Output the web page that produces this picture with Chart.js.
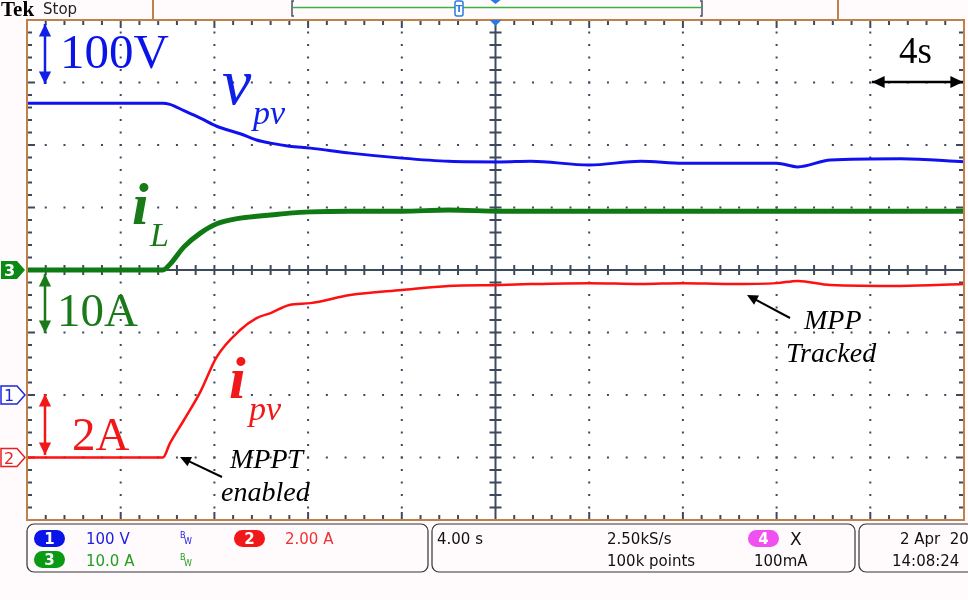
<!DOCTYPE html>
<html>
<head>
<meta charset="utf-8">
<script src="https://cdn.jsdelivr.net/npm/chart.js@4.4.0/dist/chart.umd.min.js"></script>
<style>
  html, body { margin: 0; padding: 0; background: #fffafc; }
  #wrap { width: 968px; height: 600px; position: relative; }
</style>
</head>
<body>
<div id="wrap"><canvas id="scope" width="968" height="600"></canvas></div>
<script>
// time in seconds (4 s/div, 10 div)
const times = [0, 3, 5.8, 6.1, 6.7, 7.4, 8.1, 9.1, 9.8, 10.4, 11.2, 12.1, 13.8, 16, 18, 20.2, 21.5, 24, 26.2, 28, 30, 32, 32.9, 34.3, 37.3, 40];
// ch1 PV voltage (V)
const vpv = [467, 467, 467, 465, 455, 443, 430, 418, 408, 403, 398, 395, 387, 379, 374, 373, 374, 368, 374, 371, 371, 371, 365, 376, 378, 373];
// ch3 inductor current (A)
const iL = [0, 0, 0, 0.9, 3.7, 5.9, 7.4, 8.3, 8.6, 8.8, 9.1, 9.3, 9.4, 9.4, 9.6, 9.4, 9.4, 9.4, 9.4, 9.4, 9.4, 9.4, 9.4, 9.4, 9.4, 9.4];
// ch2 PV current (A)
const ipv = [0, 0, 0, 0.45, 1.2, 2.1, 3.22, 4.08, 4.46, 4.62, 4.88, 4.94, 5.2, 5.36, 5.49, 5.52, 5.55, 5.58, 5.55, 5.58, 5.55, 5.58, 5.65, 5.52, 5.49, 5.55];

function pts(vals) {
    return times.map((t, i) => ({ x: t, y: vals[i] }));
}

const GRID = '#3d4a5e';

const graticule = {
    id: 'graticule',
    beforeDatasetsDraw(chart) {
        const ctx = chart.ctx;
        const a = chart.chartArea;
        const dw = (a.right - a.left) / 10;
        const dh = (a.bottom - a.top) / 8;
        const cx = a.left + dw * 5, cy = a.top + dh * 4;
        ctx.save();
        ctx.fillStyle = '#ffffff';
        ctx.fillRect(a.left, a.top, a.right - a.left, a.bottom - a.top);
        ctx.fillStyle = GRID;
        // dotted lines
        for (let i = 1; i < 10; i++) {
            if (i === 5) continue;
            const x = a.left + i * dw;
            for (let j = 1; j < 40; j++) ctx.fillRect(x - 1, a.top + j * dh / 5 - 1, 2, 2);
        }
        for (let k = 1; k < 8; k++) {
            if (k === 4) continue;
            const y = a.top + k * dh;
            for (let j = 1; j < 50; j++) ctx.fillRect(a.left + j * dw / 5 - 1, y - 1, 2, 2);
        }
        ctx.strokeStyle = GRID;
        ctx.lineWidth = 2;
        ctx.beginPath();
        ctx.moveTo(cx, a.top); ctx.lineTo(cx, a.bottom);
        ctx.moveTo(a.left, cy); ctx.lineTo(a.right, cy);
        // center and edge ticks
        for (let j = 1; j < 50; j++) {
            const x = a.left + j * dw / 5;
            ctx.moveTo(x, cy - 5); ctx.lineTo(x, cy + 5);
            const len = j % 5 === 0 ? 8 : 5;
            ctx.moveTo(x, a.top); ctx.lineTo(x, a.top + len);
            ctx.moveTo(x, a.bottom); ctx.lineTo(x, a.bottom - len);
        }
        for (let j = 1; j < 40; j++) {
            const y = a.top + j * dh / 5;
            ctx.moveTo(cx - 6, y); ctx.lineTo(cx + 6, y);
            const len = j % 5 === 0 ? 8 : 5;
            ctx.moveTo(a.left, y); ctx.lineTo(a.left + len, y);
            ctx.moveTo(a.right, y); ctx.lineTo(a.right - len, y);
        }
        ctx.stroke();
        ctx.restore();
    }
};

function arrowHead(ctx, x, y, ang, size) {
    ctx.beginPath();
    ctx.moveTo(x, y);
    ctx.lineTo(x - size * Math.cos(ang - 0.45), y - size * Math.sin(ang - 0.45));
    ctx.lineTo(x - size * Math.cos(ang + 0.45), y - size * Math.sin(ang + 0.45));
    ctx.closePath();
    ctx.fill();
}

function dblArrow(ctx, x1, y1, x2, y2, color) {
    ctx.strokeStyle = color; ctx.fillStyle = color; ctx.lineWidth = 2.5;
    const ang = Math.atan2(y2 - y1, x2 - x1);
    ctx.beginPath(); ctx.moveTo(x1, y1); ctx.lineTo(x2, y2); ctx.stroke();
    arrowHead(ctx, x2, y2, ang, 14);
    arrowHead(ctx, x1, y1, ang + Math.PI, 14);
}

function arrow(ctx, x1, y1, x2, y2) {
    ctx.strokeStyle = '#000'; ctx.fillStyle = '#000'; ctx.lineWidth = 2;
    const ang = Math.atan2(y2 - y1, x2 - x1);
    ctx.beginPath(); ctx.moveTo(x1, y1); ctx.lineTo(x2 - 6 * Math.cos(ang), y2 - 6 * Math.sin(ang)); ctx.stroke();
    arrowHead(ctx, x2, y2, ang, 12);
}

function pill(ctx, x, y, w, h, fill, txt) {
    ctx.fillStyle = fill;
    ctx.beginPath();
    ctx.roundRect(x, y, w, h, h / 2);
    ctx.fill();
    ctx.fillStyle = '#fff';
    ctx.font = 'bold 15px "DejaVu Sans"';
    ctx.textAlign = 'center';
    ctx.fillText(txt, x + w / 2, y + h - 3);
    ctx.textAlign = 'left';
}

function marker(ctx, y, color, txt, filled) {
    ctx.beginPath();
    ctx.moveTo(1, y - 9); ctx.lineTo(17, y - 9); ctx.lineTo(25, y); ctx.lineTo(17, y + 9); ctx.lineTo(1, y + 9);
    ctx.closePath();
    ctx.lineWidth = 1.5;
    if (filled) { ctx.fillStyle = color; ctx.fill(); }
    else { ctx.fillStyle = '#fff'; ctx.fill(); ctx.strokeStyle = color; ctx.stroke(); }
    ctx.fillStyle = filled ? '#fff' : color;
    ctx.font = (filled ? 'bold ' : '') + '16px "DejaVu Sans"';
    ctx.fillText(txt, 4, y + 6);
}

const overlay = {
    id: 'overlay',
    afterDraw(chart) {
        const ctx = chart.ctx;
        const a = chart.chartArea;
        ctx.save();
        // frame
        ctx.strokeStyle = '#c0804a';
        ctx.lineWidth = 2;
        ctx.strokeRect(a.left, a.top, a.right - a.left, a.bottom - a.top);
        ctx.beginPath();
        ctx.moveTo(153, 0); ctx.lineTo(153, a.top);
        ctx.moveTo(838, 0); ctx.lineTo(838, a.top);
        ctx.stroke();

        // header
        ctx.fillStyle = '#000';
        ctx.font = 'bold 21px "Liberation Serif"';
        ctx.fillText('Tek', 1, 16);
        ctx.font = '15px "DejaVu Sans"';
        ctx.fillStyle = '#222';
        ctx.fillText('Stop', 43, 14);
        ctx.strokeStyle = '#4a5060'; ctx.lineWidth = 1.5;
        ctx.beginPath();
        ctx.moveTo(294, 1); ctx.lineTo(292, 1); ctx.lineTo(292, 16); ctx.lineTo(294, 16);
        ctx.moveTo(700, 1); ctx.lineTo(702, 1); ctx.lineTo(702, 16); ctx.lineTo(700, 16);
        ctx.stroke();
        ctx.strokeStyle = '#3cb040'; ctx.lineWidth = 1.5;
        ctx.beginPath(); ctx.moveTo(293, 7.5); ctx.lineTo(701, 7.5); ctx.stroke();
        ctx.fillStyle = '#fff'; ctx.strokeStyle = '#2a7ae0'; ctx.lineWidth = 1.5;
        ctx.beginPath(); ctx.roundRect(455, 1, 8, 15, 2); ctx.fill(); ctx.stroke();
        ctx.fillStyle = '#2a7ae0';
        ctx.font = 'bold 9px "DejaVu Sans"';
        ctx.fillText('T', 456, 12);
        const tx = chart.scales.x.getPixelForValue(20);
        ctx.fillStyle = '#2a7ae0';
        ctx.beginPath(); ctx.moveTo(tx - 5, 0); ctx.lineTo(tx + 5, 0); ctx.lineTo(tx, 4); ctx.fill();
        ctx.beginPath(); ctx.moveTo(tx - 6, a.top); ctx.lineTo(tx + 6, a.top); ctx.lineTo(tx, a.top + 6); ctx.fill();

        // channel markers from scales
        marker(ctx, chart.scales.yL.getPixelForValue(0), '#0a8a14', '3', true);
        marker(ctx, chart.scales.yV.getPixelForValue(0), '#1c28e0', '1', false);
        marker(ctx, chart.scales.yI.getPixelForValue(0), '#e82020', '2', false);

        // annotations
        ctx.fillStyle = '#0a14e8';
        ctx.font = '49px "Liberation Serif"';
        ctx.fillText('100V', 60, 68);
        dblArrow(ctx, 45, 24, 45, 84, '#1020e8');
        ctx.font = 'italic 66px "Liberation Serif"';
        ctx.fillText('v', 222, 104);
        ctx.font = 'italic 34px "Liberation Serif"';
        ctx.fillText('pv', 253, 124);

        ctx.fillStyle = '#1a7a1a';
        ctx.font = 'bold italic 60px "Liberation Serif"';
        ctx.fillText('i', 132, 224);
        ctx.font = 'italic 34px "Liberation Serif"';
        ctx.fillText('L', 150, 246);
        ctx.font = '47px "Liberation Serif"';
        ctx.fillText('10A', 57, 326);
        dblArrow(ctx, 45, 274, 45, 333, '#1a7a1a');

        ctx.fillStyle = '#f01818';
        ctx.font = '47px "Liberation Serif"';
        ctx.fillText('2A', 72, 450);
        dblArrow(ctx, 45, 394, 45, 455, '#f01818');
        ctx.font = 'bold italic 60px "Liberation Serif"';
        ctx.fillText('i', 229, 398);
        ctx.font = 'italic 34px "Liberation Serif"';
        ctx.fillText('pv', 249, 420);

        ctx.fillStyle = '#000';
        ctx.font = 'italic 28px "Liberation Serif"';
        ctx.fillText('MPPT', 230, 468);
        ctx.fillText('enabled', 221, 501);
        arrow(ctx, 222, 477, 180, 457);
        ctx.fillText('MPP', 804, 329);
        ctx.fillText('Tracked', 786, 362);
        arrow(ctx, 790, 318, 747, 295);
        ctx.font = '37px "Liberation Serif"';
        ctx.fillText('4s', 899, 63);
        dblArrow(ctx, 872, 82, 963, 82, '#000');

        // status bar
        ctx.strokeStyle = '#333'; ctx.lineWidth = 1.2;
        ctx.beginPath(); ctx.roundRect(27, 524, 401, 48, 7); ctx.stroke();
        ctx.beginPath(); ctx.roundRect(432, 524, 423, 48, 7); ctx.stroke();
        ctx.beginPath(); ctx.roundRect(859, 524, 120, 48, 7); ctx.stroke();
        pill(ctx, 34, 530, 31, 17, '#0a14e8', '1');
        pill(ctx, 34, 551, 31, 17, '#0a9a14', '3');
        pill(ctx, 234, 530, 31, 17, '#f01818', '2');
        pill(ctx, 748, 530, 31, 17, '#f050f0', '4');
        ctx.font = '15px "DejaVu Sans"';
        ctx.fillStyle = '#2020e0'; ctx.fillText('100 V', 86, 544);
        ctx.fillStyle = '#20a020'; ctx.fillText('10.0 A', 86, 566);
        ctx.fillStyle = '#f03030'; ctx.fillText('2.00 A', 285, 544);
        ctx.fillStyle = '#111';
        ctx.fillText('4.00 s', 437, 544);
        ctx.fillText('2.50kS/s', 607, 544);
        ctx.fillText('100k points', 607, 566);
        ctx.fillText('100mA', 754, 566);
        ctx.fillText('2 Apr  20', 900, 544);
        ctx.fillText('14:08:24', 892, 566);
        ctx.font = '17px "DejaVu Sans"';
        ctx.fillText('X', 790, 545);
        ctx.font = '8px "DejaVu Sans"';
        ctx.fillStyle = '#2020e0'; ctx.fillText('B', 180, 538); ctx.fillText('W', 184, 544);
        ctx.fillStyle = '#20a020'; ctx.fillText('B', 180, 560); ctx.fillText('W', 184, 566);
        ctx.restore();
    }
};

const ctx = document.getElementById('scope').getContext('2d');
new Chart(ctx, {
    type: 'line',
    data: {
        datasets: [
            { label: 'ipv', data: pts(ipv), yAxisID: 'yI', borderColor: '#ff1010', borderWidth: 2.5 },
            { label: 'iL', data: pts(iL), yAxisID: 'yL', borderColor: '#0f7a14', borderWidth: 5 },
            { label: 'vpv', data: pts(vpv), yAxisID: 'yV', borderColor: '#1010f0', borderWidth: 3 }
        ]
    },
    options: {
        responsive: false,
        animation: false,
        layout: { padding: { left: 27, top: 20, right: 4, bottom: 80 } },
        elements: { point: { radius: 0 }, line: { cubicInterpolationMode: 'monotone', fill: false } },
        plugins: { legend: { display: false }, tooltip: { enabled: false } },
        scales: {
            x: { type: 'linear', min: 0, max: 40, display: false },
            yV: { type: 'linear', min: -200, max: 600, display: false },
            yI: { type: 'linear', min: -2, max: 14, display: false },
            yL: { type: 'linear', min: -40, max: 40, display: false }
        }
    },
    plugins: [graticule, overlay]
});
</script>
</body>
</html>
